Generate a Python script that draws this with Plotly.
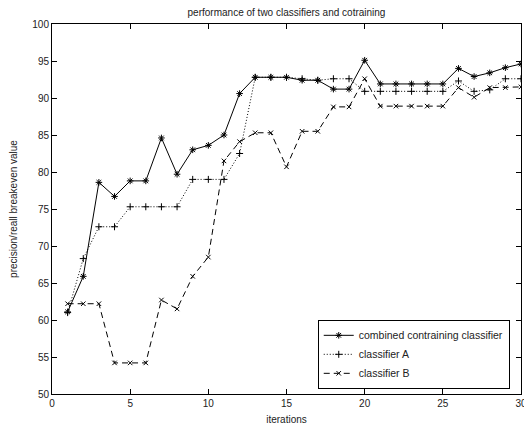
import plotly.graph_objects as go

iterations = list(range(1, 31))
combined = [61.1, 65.9, 78.6, 76.7, 78.8, 78.8, 84.6, 79.7, 83.0, 83.6,
            85.0, 90.6, 92.8, 92.8, 92.8, 92.4, 92.4, 91.2, 91.2, 95.1,
            91.9, 91.9, 91.9, 91.9, 91.9, 94.0, 92.9, 93.4, 94.1, 94.6]
classifier_a = [61.0, 68.3, 72.6, 72.6, 75.3, 75.3, 75.3, 75.3, 79.0, 79.0,
                79.0, 82.5, 92.8, 92.8, 92.8, 92.6, 92.4, 92.6, 92.6, 90.9,
                90.9, 90.9, 90.9, 90.9, 90.9, 92.3, 90.9, 91.1, 92.6, 92.6]
classifier_b = [62.2, 62.2, 62.2, 54.2, 54.2, 54.2, 62.7, 61.5, 65.9, 68.5,
                81.5, 84.1, 85.3, 85.3, 80.7, 85.5, 85.5, 88.8, 88.8, 92.6,
                88.9, 88.9, 88.9, 88.9, 88.9, 91.4, 90.1, 91.4, 91.4, 91.5]

x_ticks = [0, 5, 10, 15, 20, 25, 30]
y_ticks = [50, 55, 60, 65, 70, 75, 80, 85, 90, 95, 100]

font_family = "Liberation Sans, Arial, Helvetica, sans-serif"

fig = go.Figure()
fig.add_trace(go.Scatter(
    x=iterations, y=combined, name="combined contraining classifier",
    mode="lines+markers",
    line=dict(color="black", width=1, dash="solid"),
    marker=dict(symbol="asterisk-open", size=5.5, color="black",
                line=dict(color="black", width=1)),
))
fig.add_trace(go.Scatter(
    x=iterations, y=classifier_a, name="classifier A",
    mode="lines+markers",
    line=dict(color="black", width=1, dash="1px,2px"),
    marker=dict(symbol="cross-thin-open", size=5, color="black",
                line=dict(color="black", width=1)),
))
fig.add_trace(go.Scatter(
    x=iterations, y=classifier_b, name="classifier B",
    mode="lines+markers",
    line=dict(color="black", width=1, dash="6px,4px"),
    marker=dict(symbol="x-thin-open", size=4.5, color="black",
                line=dict(color="black", width=1)),
))

axis_common = dict(
    showline=True, linecolor="black", linewidth=1, mirror="ticks",
    ticks="inside", ticklen=5, tickcolor="black", tickwidth=1,
    showgrid=False, zeroline=False, ticklabeloverflow="allow",
    automargin=False,
    tickfont=dict(size=10, color="#222", family=font_family),
)

fig.update_layout(
    width=524, height=425,
    margin=dict(l=52, r=3, t=24, b=31),
    paper_bgcolor="white", plot_bgcolor="white",
    font=dict(family=font_family, size=10, color="#222"),
    title=dict(text="performance of two classifiers and cotraining",
               x=0.5, xanchor="center", xref="paper",
               y=1, yref="container", yanchor="top", pad=dict(t=9),
               font=dict(size=10, color="#222")),
    xaxis=dict(range=[0, 30], tickvals=x_ticks,
               title=dict(text="iterations", standoff=10,
                          font=dict(size=10)), **axis_common),
    yaxis=dict(range=[50, 100], tickvals=y_ticks,
               title=dict(text="precision/reall breakeven value", standoff=12,
                          font=dict(size=10)), **axis_common),
    legend=dict(x=0.976, y=0.014, xanchor="right", yanchor="bottom",
                bgcolor="white", bordercolor="black", borderwidth=1,
                font=dict(size=10.5, color="#222"), tracegroupgap=0,
                itemwidth=30),
    showlegend=True,
)

fig.write_html(
    "out.html",
    config={"displayModeBar": False},
    post_script="document.body.style.margin='0';"
                "document.body.style.overflow='hidden';",
)
